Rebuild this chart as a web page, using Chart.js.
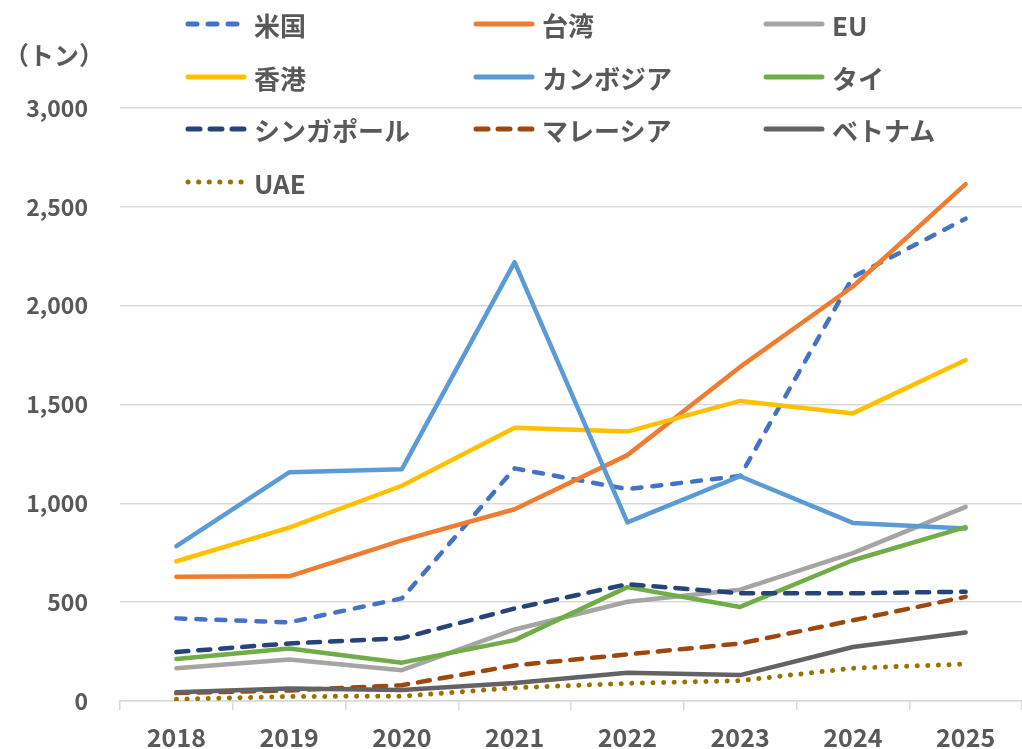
<!DOCTYPE html>
<html>
<head>
<meta charset="utf-8">
<script src="https://cdn.jsdelivr.net/npm/chart.js@4"></script>
<style>
  body { margin: 0; background: #fff; }
  #wrap { position: relative; width: 1022px; height: 749px; }
  #legend { position: absolute; left: 0; top: 0; }
  .item { position: absolute; display: flex; align-items: center; height: 30px;
          font: bold 26px "Noto Sans CJK JP", sans-serif; color: #595959; white-space: nowrap; }
  .item svg { margin-right: 7px; }
  #ytitle { position: absolute; left: 4px; top: 36px; font: bold 25px "Noto Sans CJK JP", sans-serif; color: #595959; }
</style>
</head>
<body>
<div id="wrap">
  <canvas id="chart" width="1022" height="749"></canvas>
  <div id="ytitle">（トン）</div>
  <div id="legend"></div>
</div>
<script>
// 年
const years = ['2018', '2019', '2020', '2021', '2022', '2023', '2024', '2025'];
const yTicks = [0, 500, 1000, 1500, 2000, 2500, 3000];

// 輸出先別（トン）
const usa       = [418, 398, 519, 1177, 1072, 1138, 2145, 2440];
const taiwan    = [629, 631, 813, 970, 1244, 1690, 2097, 2615];
const eu        = [166, 210, 156, 362, 502, 563, 748, 982];
const hongkong  = [707, 877, 1089, 1383, 1363, 1518, 1455, 1725];
const cambodia  = [783, 1157, 1173, 2220, 904, 1137, 901, 873];
const thailand  = [213, 266, 194, 308, 576, 476, 712, 880];
const singapore = [248, 291, 318, 468, 591, 545, 545, 553];
const malaysia  = [40, 53, 80, 180, 236, 291, 408, 527];
const vietnam   = [44, 63, 56, 91, 143, 131, 273, 347];
const uae       = [9, 23, 24, 67, 89, 103, 166, 187];

const series = [
  { label: '米国', data: usa, color: '#4472C4', dash: [9, 11] },
  { label: '台湾', data: taiwan, color: '#ED7D31', dash: [] },
  { label: 'EU', data: eu, color: '#A5A5A5', dash: [] },
  { label: '香港', data: hongkong, color: '#FFC000', dash: [] },
  { label: 'カンボジア', data: cambodia, color: '#5B9BD5', dash: [] },
  { label: 'タイ', data: thailand, color: '#70AD47', dash: [] },
  { label: 'シンガポール', data: singapore, color: '#264478', dash: [12, 10] },
  { label: 'マレーシア', data: malaysia, color: '#9E480E', dash: [12, 10] },
  { label: 'ベトナム', data: vietnam, color: '#636363', dash: [] },
  { label: 'UAE', data: uae, color: '#997300', dash: [0.1, 10.5] }
];

const gridColor = '#D9D9D9';
const textColor = '#595959';
const font = '"Noto Sans CJK JP", sans-serif';

const ctx = document.getElementById('chart').getContext('2d');
const chart = new Chart(ctx, {
  type: 'line',
  data: {
    labels: years,
    datasets: series.map((s, i) => ({
      label: s.label,
      data: s.data,
      borderColor: s.color,
      backgroundColor: s.color,
      borderWidth: s.label === 'UAE' ? 5 : 4.5,
      borderDash: s.dash,
      borderCapStyle: 'round',
      borderJoinStyle: 'round',
      pointRadius: 0,
      tension: 0,
      order: series.length - i
    }))
  },
  options: {
    responsive: false,
    animation: false,
    layout: { padding: { top: 108, right: 0, left: 0, bottom: 0 } },
    plugins: { legend: { display: false }, tooltip: { enabled: false } },
    scales: {
      x: {
        offset: true,
        grid: { display: true, drawOnChartArea: false, drawTicks: true, tickLength: 9, offset: true, color: gridColor, lineWidth: 1.5 },
        border: { display: true, color: gridColor, width: 1.5 },
        ticks: { color: textColor, font: { family: font, size: 25, weight: 'bold' }, padding: 12, maxRotation: 0 },
        afterFit: (scale) => { scale.height = 48; }
      },
      y: {
        min: 0,
        max: 3000,
        afterBuildTicks: (scale) => { scale.ticks = yTicks.map(v => ({ value: v })); },
        grid: { color: gridColor, lineWidth: 1.5, drawTicks: false },
        border: { display: false },
        ticks: {
          color: textColor,
          font: { family: font, size: 23, weight: 'bold' },
          padding: 32,
          callback: (v) => v.toLocaleString('en-US')
        },
        afterFit: (scale) => { scale.width = 120; }
      }
    }
  }
});

// 凡例（3列）
const colX = [185, 473, 763];
const rowY = [24, 77, 129, 182];
const legend = document.getElementById('legend');
series.forEach((s, i) => {
  const div = document.createElement('div');
  div.className = 'item';
  div.style.left = colX[i % 3] + 'px';
  div.style.top = (rowY[Math.floor(i / 3)] - 15) + 'px';
  const dash = s.dash.length ? `stroke-dasharray="${s.dash.join(' ')}"` : '';
  div.innerHTML = `<svg width="62" height="10"><line x1="3" y1="5" x2="59" y2="5" stroke="${s.color}" stroke-width="5" stroke-linecap="round" ${dash}/></svg><span>${s.label}</span>`;
  legend.appendChild(div);
});
</script>
</body>
</html>
